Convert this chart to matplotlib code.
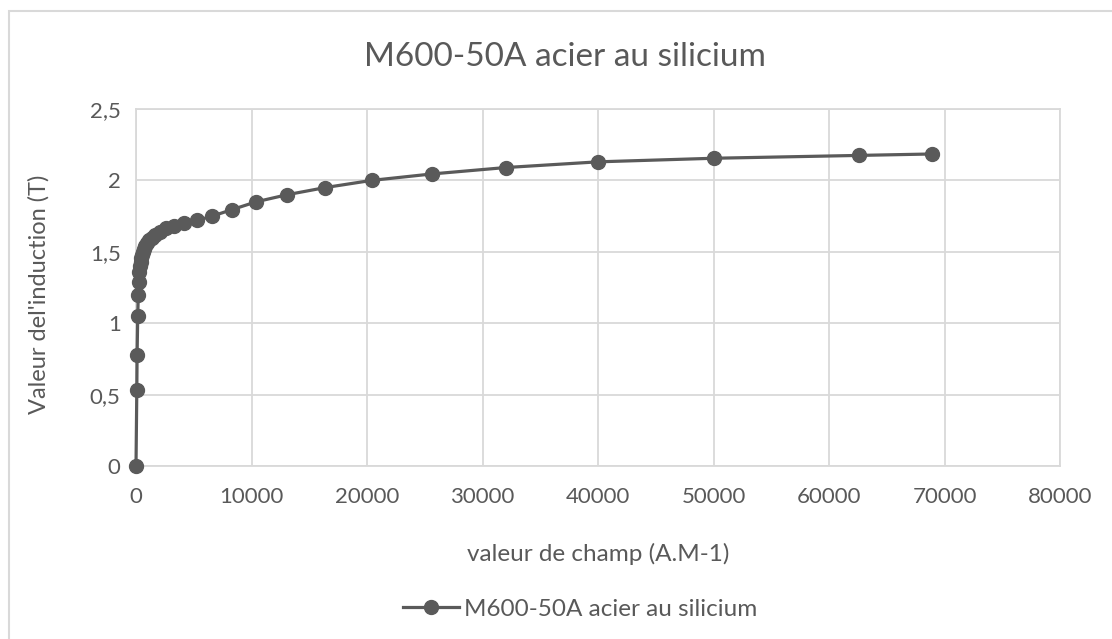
import matplotlib.pyplot as plt
from matplotlib.patches import Rectangle
from matplotlib.ticker import FuncFormatter

# B(H) curve points for M600-50A electrical steel
champ_H = [0, 70, 95, 150, 200, 250, 300, 340, 390, 440, 500, 580, 680, 800,
           950, 1130, 1350, 1650, 2050, 2600, 3300, 4170, 5300, 6600, 8300,
           10400, 13100, 16400, 20400, 25600, 32000, 40000, 50000, 62600, 68900]
induction_B = [0, 0.53, 0.78, 1.05, 1.20, 1.29, 1.36, 1.40, 1.43, 1.46, 1.48,
               1.50, 1.52, 1.54, 1.56, 1.58, 1.60, 1.62, 1.64, 1.665, 1.68,
               1.70, 1.72, 1.75, 1.795, 1.85, 1.90, 1.95, 2.00, 2.045, 2.09,
               2.13, 2.155, 2.175, 2.185]

x_ticks = [0, 10000, 20000, 30000, 40000, 50000, 60000, 70000, 80000]
y_ticks = [0, 0.5, 1, 1.5, 2, 2.5]

serie = 'M600-50A acier au silicium'
text_color = '#595959'
grid_color = '#d9d9d9'
line_color = '#5a5a5a'

plt.rcParams['font.family'] = ['Lato', 'DejaVu Sans']

fig = plt.figure(figsize=(11.12, 6.39), dpi=100)

# chart area frame
fig.patches.append(Rectangle((9 / 1112, -0.1), 1.2, (639 - 11) / 639 + 0.1,
                             transform=fig.transFigure, fill=False,
                             edgecolor=grid_color, linewidth=1.5))

ax = fig.add_axes([136 / 1112, (639 - 466) / 639, 924 / 1112, 357 / 639])
ax.plot(champ_H, induction_B, color=line_color, linewidth=2.3,
        marker='o', markersize=10, label=serie, zorder=3, clip_on=False)

ax.set_xlim(0, 80000)
ax.set_ylim(0, 2.5)
ax.set_xticks(x_ticks)
ax.set_yticks(y_ticks)
ax.yaxis.set_major_formatter(FuncFormatter(lambda v, p: ('%g' % v).replace('.', ',')))
ax.xaxis.set_major_formatter(FuncFormatter(lambda v, p: '%d' % v))
ax.grid(True, color=grid_color, linewidth=1.3)
ax.set_axisbelow(True)
for side in ax.spines.values():
    side.set_color(grid_color)
    side.set_linewidth(1.3)
ax.tick_params(length=0, labelsize=16, labelcolor=text_color)
ax.tick_params(axis='x', pad=15)
ax.tick_params(axis='y', pad=11)

fig.text(565 / 1112, 1 - 57 / 639, serie, fontsize=24, color=text_color,
         ha='center', va='center')
ax.set_xlabel('valeur de champ (A.M-1)', fontsize=17.5, color=text_color)
ax.xaxis.set_label_coords(0.5, -(543 - 466) / 357)
ax.set_ylabel("Valeur del'induction (T)", fontsize=17, color=text_color)
ax.yaxis.set_label_coords((50 - 136) / 924, 0.48)

fig.legend(loc='center', bbox_to_anchor=(580 / 1112, 1 - 609 / 639), frameon=False,
           fontsize=17.5, labelcolor=text_color, handlelength=2.3, handletextpad=0.2)

fig.savefig('out.png', dpi=100)
